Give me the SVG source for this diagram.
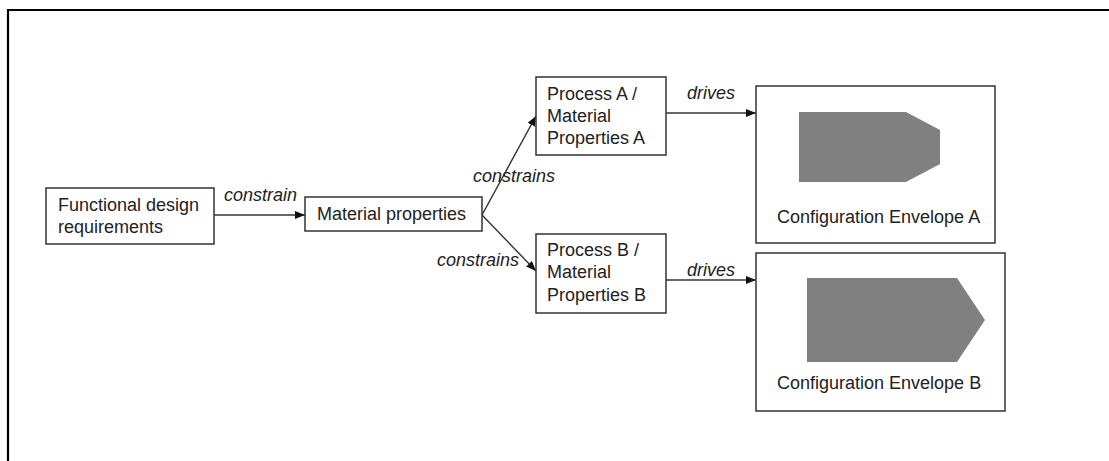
<svg xmlns="http://www.w3.org/2000/svg" width="1109" height="461" viewBox="0 0 1109 461">
  <style>
    text { font-family: "Liberation Sans", Arial, sans-serif; font-size: 18px; fill: #222; }
    .lbl { font-style: italic; }
    .box { fill: #fff; stroke: #333; stroke-width: 1.5; }
    .edge { fill: none; stroke: #333; stroke-width: 1.4; marker-end: url(#arrow); }
    .shape { fill: #808080; }
  </style>
  <defs>
    <marker id="arrow" viewBox="0 0 10 8" refX="10" refY="4" markerWidth="10" markerHeight="8" markerUnits="userSpaceOnUse" orient="auto">
      <path d="M0,0 L10,4 L0,8 Z" fill="#111"/>
    </marker>
  </defs>

  <rect width="1109" height="461" fill="#fff"/>
  <!-- outer frame, open to the right and bottom -->
  <path d="M8,461 L8,10 L1109,10" fill="none" stroke="#000" stroke-width="2.2"/>

  <g id="connectors">
    <line class="edge" x1="214" y1="215" x2="305" y2="215"/>
    <line class="edge" x1="482" y1="215" x2="536" y2="116"/>
    <line class="edge" x1="482" y1="215" x2="536" y2="271"/>
    <line class="edge" x1="666" y1="113" x2="756" y2="113"/>
    <line class="edge" x1="666" y1="280" x2="756" y2="280"/>
    <text class="lbl" x="224" y="201">constrain</text>
    <text class="lbl" x="473" y="182">constrains</text>
    <text class="lbl" x="437" y="266">constrains</text>
    <text class="lbl" x="687" y="99">drives</text>
    <text class="lbl" x="687" y="276">drives</text>
  </g>

  <g id="functional-design">
    <rect class="box" x="46" y="188" width="168" height="56"/>
    <text x="58" y="211">Functional design</text>
    <text x="58" y="233">requirements</text>
  </g>

  <g id="material-properties">
    <rect class="box" x="305" y="197" width="177" height="34"/>
    <text x="317" y="220">Material properties</text>
  </g>

  <g id="process-a">
    <rect class="box" x="536" y="77" width="130" height="78"/>
    <text x="547" y="100">Process A /</text>
    <text x="547" y="122">Material</text>
    <text x="547" y="144">Properties A</text>
  </g>

  <g id="process-b">
    <rect class="box" x="536" y="234" width="130" height="79"/>
    <text x="547" y="256">Process B /</text>
    <text x="547" y="278">Material</text>
    <text x="547" y="301">Properties B</text>
  </g>

  <g id="envelope-a">
    <rect class="box" x="756" y="86" width="239" height="157"/>
    <polygon class="shape" points="799,112 906,112 940,130 940,164 906,182 799,182"/>
    <text x="777" y="223">Configuration Envelope A</text>
  </g>

  <g id="envelope-b">
    <rect class="box" x="756" y="253" width="249" height="158"/>
    <polygon class="shape" points="807,278 957,278 985,320 957,362 807,362"/>
    <text x="777" y="389">Configuration Envelope B</text>
  </g>
</svg>
